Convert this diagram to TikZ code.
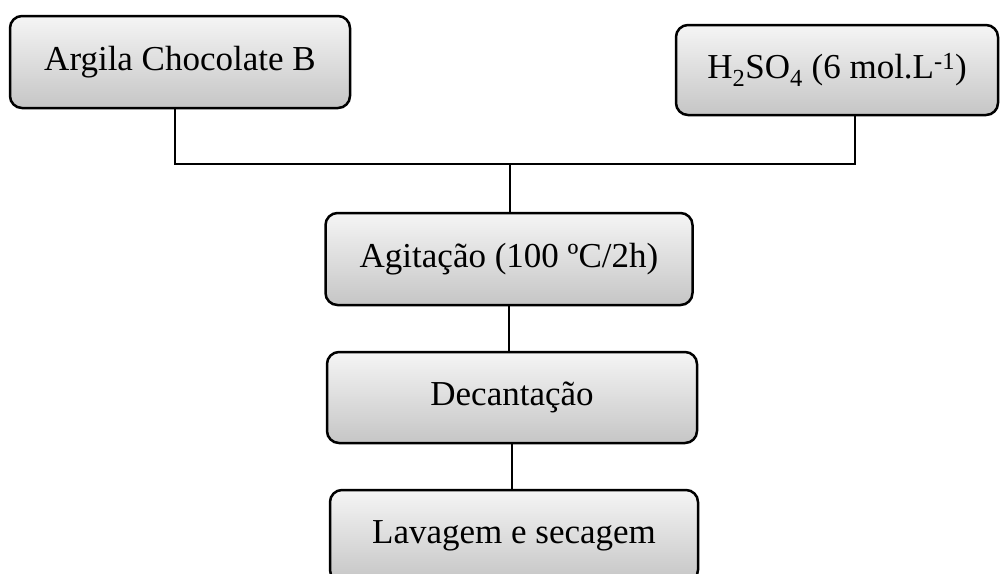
\documentclass[tikz,border=0pt]{standalone}
\usepackage{fontspec}
\setmainfont{Liberation Serif}
\usepackage{tikz}
\usetikzlibrary{positioning,calc}

\begin{document}
\begin{tikzpicture}[x=1pt,y=-1pt,
    procbox/.style={draw=black, line width=2.5pt, rounded corners=12pt,
        top color=gray!8, middle color=gray!20, bottom color=gray!45,
        minimum height=92pt, inner sep=0pt,
        font=\fontsize{35}{42}\selectfont},
    link/.style={line width=2pt, black}]
    \useasboundingbox (0,0) rectangle (1001,573);

    % Starting materials
    \node[procbox, minimum width=340pt] (argila) at (180,62) {Argila Chocolate B};
    \node[procbox, minimum width=322pt, minimum height=90pt] (acid) at (837,70)
        {H\textsubscript{2}SO\textsubscript{4} (6 mol.L\textsuperscript{-1})};

    % Process steps
    \node[procbox, minimum width=367pt] (agit) at (509,259) {Agitação (100 ºC/2h)};
    \node[procbox, minimum width=370pt, minimum height=91pt] (decant) at (512,397.5) {Decantação};
    \node[procbox, minimum width=368pt] (lavag) at (514,536) {Lavagem e secagem};

    % Connectors
    \coordinate (join) at (510,164);
    \draw[link] ([xshift=-5pt]argila.south) |- (join) -| ([xshift=18pt]acid.south);
    \draw[link] (join) -- (join |- agit.north);
    \draw[link] (agit.south) -- (decant.north -| agit.south);
    \draw[link] (decant.south) -- (lavag.north -| decant.south);
\end{tikzpicture}
\end{document}
